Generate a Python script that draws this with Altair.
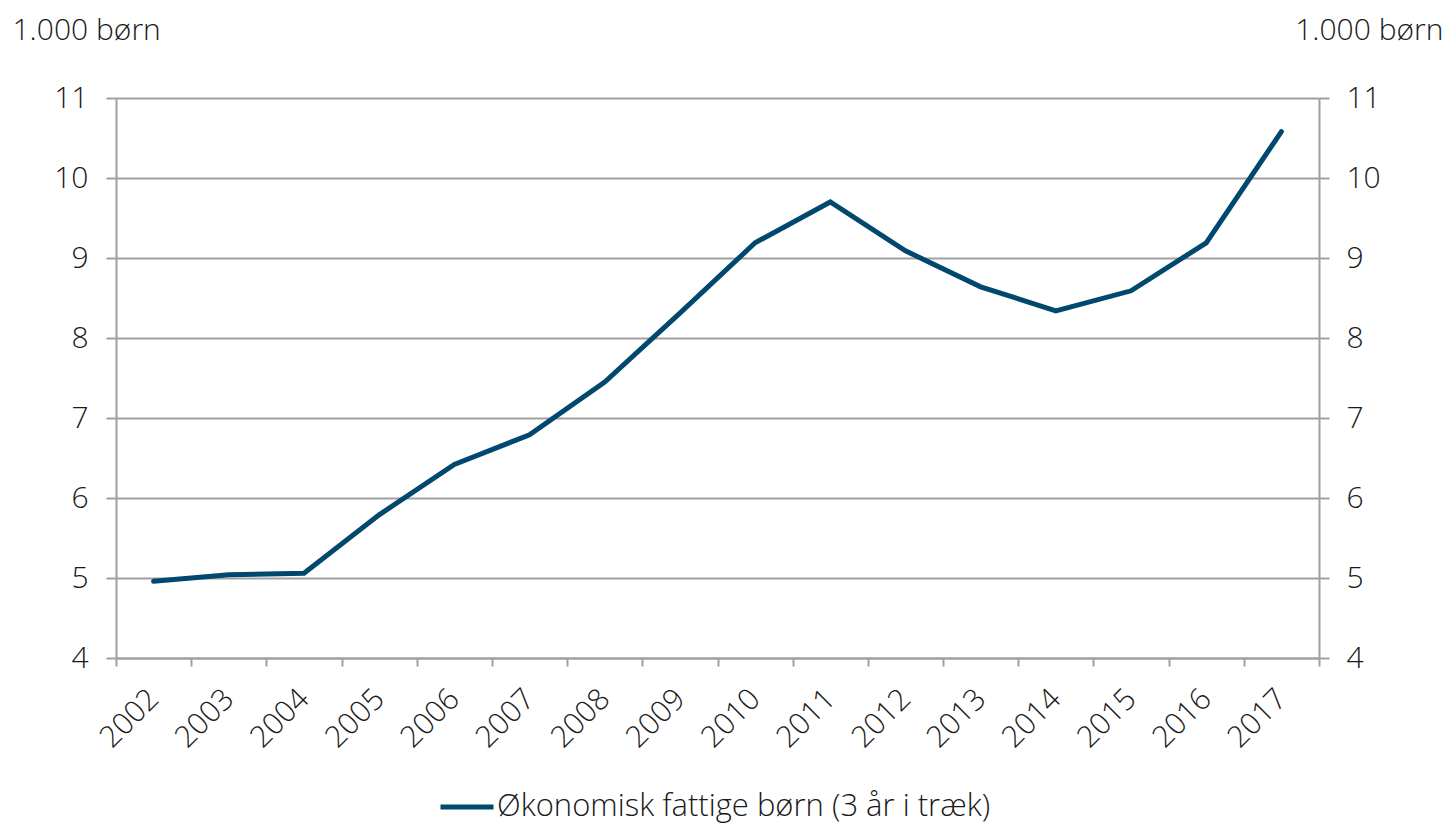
import altair as alt
import pandas as pd

years = [str(y) for y in range(2002, 2018)]
values = [4.96, 5.04, 5.06, 5.79, 6.42, 6.79, 7.45, 8.31, 9.19, 9.70, 9.09, 8.64, 8.34, 8.59, 9.19, 10.58]
series_name = "Økonomisk fattige børn (3 år i træk)"
y_ticks = [4, 5, 6, 7, 8, 9, 10, 11]
unit = "1.000 børn"

df = pd.DataFrame({"year": years, "value": values, "series": series_name})

FONT = "Open Sans"
GRAY = "#A0A0A0"
LINE = "#00486E"
TXT = "#1A1A1A"

W, H = 1203, 560

x_enc = alt.X(
    "year:O",
    scale=alt.Scale(type="band", paddingInner=0, paddingOuter=0),
    bandPosition=0.5,
    axis=alt.Axis(
        title=None, tickBand="extent", labelAngle=-45, labelAlign="right",
        labelBaseline="middle", tickSize=8, labelPadding=28, labelFont=FONT,
        labelFontSize=30, labelFontWeight=300, labelColor=TXT, domainColor=GRAY,
        domainWidth=2, tickColor=GRAY, tickWidth=2, grid=False,
    ),
)

y_scale = alt.Scale(domain=[4, 11], nice=False, zero=False)

left = alt.Chart(df).mark_line(strokeWidth=5, strokeCap="round", strokeJoin="miter").encode(
    x=x_enc,
    y=alt.Y(
        "value:Q", scale=y_scale,
        axis=alt.Axis(
            orient="left", values=y_ticks, title=unit, titleAngle=0, titleAlign="left",
            titleBaseline="alphabetic", titleX=-104, titleY=-59, titleFont=FONT,
            titleFontSize=30, titleFontWeight=300, titleColor=TXT,
            labelFont=FONT, labelFontSize=30, labelFontWeight=300, labelColor=TXT,
            labelPadding=18, tickSize=10, tickColor=GRAY, tickWidth=2,
            domainColor=GRAY, domainWidth=2, grid=True, gridColor=GRAY, gridWidth=2,
        ),
    ),
    color=alt.Color(
        "series:N", scale=alt.Scale(range=[LINE]),
        legend=alt.Legend(
            title=None, orient="none", legendX=322, legendY=680, padding=0,
            symbolType="stroke", symbolSize=2809, symbolStrokeWidth=5,
            symbolStrokeColor=LINE, labelFont=FONT, labelFontSize=31,
            labelFontWeight=300, labelColor=TXT, labelOffset=1, labelLimit=800,
        ),
    ),
)

right = alt.Chart(df).mark_line(opacity=0).encode(
    x=x_enc,
    y=alt.Y(
        "value:Q", scale=y_scale,
        axis=alt.Axis(
            orient="right", values=y_ticks, title=unit, titleAngle=0, titleAlign="right",
            titleBaseline="alphabetic", titleX=124, titleY=-59, titleFont=FONT,
            titleFontSize=30, titleFontWeight=300, titleColor=TXT,
            labelFont=FONT, labelFontSize=30, labelFontWeight=300, labelColor=TXT,
            labelPadding=17, tickSize=10, tickColor=GRAY, tickWidth=2,
            domainColor=GRAY, domainWidth=2, grid=False,
        ),
    ),
)

chart = (
    alt.layer(left, right)
    .resolve_scale(y="shared")
    .resolve_axis(y="independent")
    .properties(
        width=W, height=H,
        autosize=alt.AutoSizeParams(type="none"),
        padding={"left": 108, "top": 90, "right": 126, "bottom": 171},
    )
    .configure_view(stroke=None)
    .configure(background="white")
)

chart.save("out.html", embed_options={"renderer": "svg", "actions": False})
